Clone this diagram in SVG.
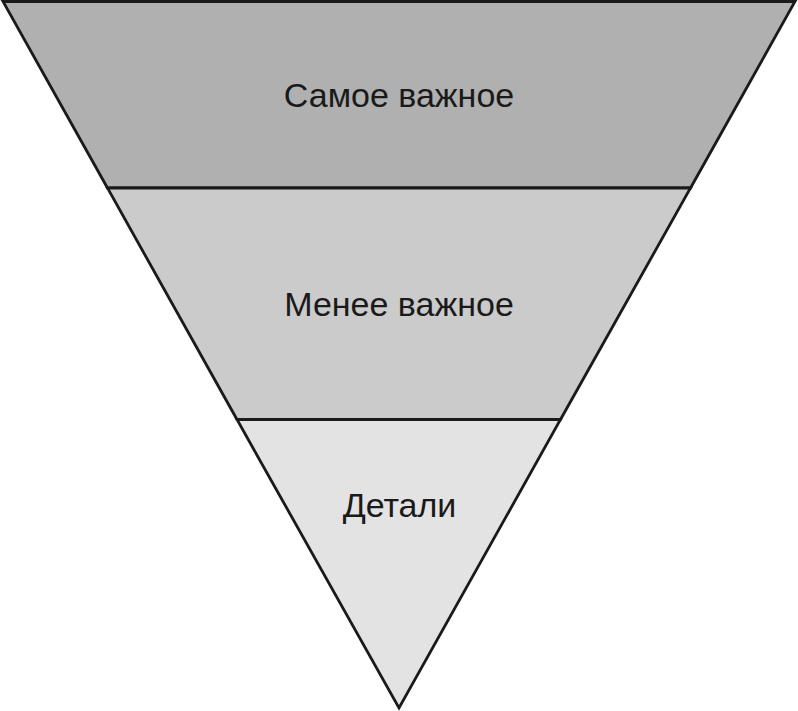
<svg xmlns="http://www.w3.org/2000/svg" width="798" height="711" viewBox="0 0 798 711">
<style>
.band{stroke:#1a1a1a;stroke-width:2.8;stroke-linejoin:miter}
.lbl{font-family:"Liberation Sans",Arial,sans-serif;font-size:34px;fill:#1a1a1a;text-anchor:middle}
</style>
<rect width="798" height="711" fill="#ffffff"/>
<g id="top">
<polygon class="band" points="3,1.5 795,1.5 690.5,188 107.5,188" fill="#b0b0b0"/>
<text class="lbl" x="399" y="107">Самое важное</text>
</g>
<g id="middle">
<polygon class="band" points="107.5,188 690.5,188 560.5,419.5 237,419.5" fill="#cbcbcb"/>
<text class="lbl" x="399" y="316">Менее важное</text>
</g>
<g id="bottom">
<polygon class="band" points="237,419.5 560.5,419.5 399,708" fill="#e3e3e3"/>
<text class="lbl" x="399.5" y="517">Детали</text>
</g>
</svg>
